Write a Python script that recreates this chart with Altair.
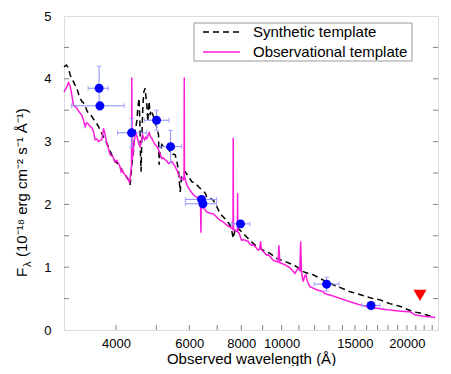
import altair as alt
import pandas as pd

# ---------------- data ----------------
syn_wl = [3000, 3040, 3076, 3103, 3130, 3162, 3190, 3221, 3250, 3281, 3311, 3340, 3372, 3400, 3436,
          3470, 3499, 3530, 3563, 3600, 3631, 3665, 3698, 3730, 3767, 3800, 3838, 3870, 3909, 3945,
          3981, 4020, 4057, 4095, 4130, 4170, 4207, 4250, 4287, 4325, 4345, 4365, 4385, 4406, 4425,
          4446, 4468, 4488, 4513, 4530, 4545, 4565, 4580, 4596, 4612, 4632, 4650, 4666, 4699, 4720,
          4744, 4770, 4787, 4804, 4831, 4850, 4876, 4920, 4967, 5015, 5061, 5070, 5078, 5100, 5155,
          5200, 5250, 5300, 5350, 5400, 5449, 5500, 5550, 5603, 5656, 5680, 5706, 5730, 5760, 5810,
          5867, 5920, 5977, 6030, 6088, 6140, 6200, 6260, 6316, 6434, 6553, 6605, 6720, 6850, 6980,
          7107, 7240, 7377, 7512, 7580, 7650, 7720, 7794, 7940, 8086, 8240, 8390, 8550, 8708, 8870,
          9032, 9200, 9373, 9550, 9727, 9900, 10088, 10280, 10471, 10670, 10867, 11060, 11270, 11586,
          11912, 12361, 12828, 13305, 13900, 14592, 15144, 16007, 16600, 17233, 18200, 19400, 20000,
          20717, 21500, 22316, 23361]
syn_flux = [4.19, 4.22, 4.17, 4.06, 4.02, 3.95, 3.90, 3.85, 3.76, 3.69, 3.64, 3.62, 3.58, 3.50, 3.45,
            3.43, 3.40, 3.36, 3.32, 3.28, 3.24, 3.18, 3.13, 3.08, 3.03, 2.97, 2.92, 2.85, 2.79, 2.73,
            2.68, 2.66, 2.63, 2.59, 2.55, 2.51, 2.47, 2.43, 2.39, 2.31, 2.45, 2.63, 2.75, 2.84, 3.00,
            3.16, 3.25, 3.32, 3.53, 3.62, 3.69, 3.30, 2.80, 2.52, 3.00, 3.42, 3.65, 3.79, 3.85, 3.72,
            3.58, 3.32, 3.50, 3.64, 3.42, 3.50, 3.47, 3.40, 3.32, 3.22, 3.11, 2.85, 2.63, 2.80, 2.95,
            2.92, 2.89, 2.90, 2.89, 2.83, 2.79, 2.80, 2.79, 2.68, 2.52, 2.35, 2.20, 2.35, 2.47, 2.50,
            2.52, 2.48, 2.44, 2.40, 2.36, 2.35, 2.34, 2.31, 2.28, 2.23, 2.18, 2.12, 2.10, 2.07, 1.97,
            1.86, 1.80, 1.75, 1.67, 1.60, 1.46, 1.58, 1.64, 1.59, 1.54, 1.48, 1.43, 1.38, 1.33, 1.30,
            1.27, 1.25, 1.22, 1.18, 1.14, 1.12, 1.11, 1.08, 1.06, 1.03, 1.01, 0.97, 0.93, 0.90,
            0.88, 0.82, 0.77, 0.72, 0.67, 0.61, 0.58, 0.53, 0.50, 0.48, 0.42, 0.37, 0.33,
            0.29, 0.27, 0.24, 0.20]

obs_wl = [3000, 3040, 3076, 3105, 3133, 3162, 3190, 3221, 3281, 3311, 3342, 3372, 3400, 3423, 3466,
          3500, 3532, 3563, 3600, 3631, 3660, 3698, 3733, 3767, 3802, 3840, 3873, 3930, 3981, 4020,
          4057, 4090, 4116, 4140, 4170, 4210, 4246, 4280, 4311, 4341, 4357, 4365, 4373, 4400, 4430,
          4463, 4490, 4513, 4545, 4571, 4600, 4632, 4660, 4684, 4715, 4744, 4775, 4804, 4840, 4876,
          4920, 4967, 5010, 5061, 5110, 5155, 5200, 5250, 5300, 5350, 5400, 5449, 5500, 5550, 5600,
          5656, 5706, 5760, 5810, 5828, 5835, 5842, 5888, 5930, 5977, 6060, 6146, 6230, 6316, 6363,
          6385, 6398, 6411, 6434, 6480, 6540, 6605, 6725, 6850, 6979, 7107, 7238, 7377, 7512, 7583,
          7640, 7650, 7660, 7722, 7800, 7828, 7838, 7848, 7909, 7960, 8014, 8090, 8161, 8240, 8312,
          8390, 8470, 8550, 8626, 8708, 8786, 8860, 8903, 8945, 9032, 9120, 9203, 9290, 9373, 9460,
          9546, 9640, 9727, 9800, 9852, 9900, 10000, 10090, 10184, 10280, 10372, 10470, 10568, 10670,
          10765, 10870, 10962, 11060, 11110, 11160, 11270, 11360, 11439, 11483, 11586, 11695, 12137,
          12589, 12708, 13305, 14592, 15422, 16366, 17549, 19247, 20342, 20911, 21900, 23361]
obs_flux = [3.79, 3.86, 3.94, 3.88, 3.74, 3.58, 3.56, 3.53, 3.45, 3.42, 3.34, 3.24, 3.30, 3.29, 3.24,
            3.22, 3.16, 3.03, 3.04, 3.00, 3.02, 3.03, 3.21, 3.11, 2.97, 2.88, 2.79, 2.76, 2.68, 2.70,
            2.65, 2.60, 2.52, 2.55, 2.50, 2.47, 2.42, 2.40, 2.34, 2.52, 2.60, 4.02, 2.70, 2.85, 3.03,
            3.16, 3.08, 3.03, 2.95, 2.92, 3.00, 3.11, 3.06, 3.03, 3.07, 3.05, 3.10, 3.14, 3.08, 3.05,
            3.00, 2.95, 2.93, 2.87, 2.80, 2.73, 2.74, 2.71, 2.69, 2.65, 2.67, 2.68, 2.64, 2.60, 2.55,
            2.47, 2.42, 2.40, 2.39, 2.45, 4.02, 2.45, 2.36, 2.30, 2.26, 2.20, 2.15, 2.12, 2.10, 2.07,
            2.00, 1.55, 2.00, 2.04, 1.94, 1.92, 1.88, 1.86, 1.85, 1.80, 1.75, 1.72, 1.67, 1.64, 1.62,
            1.60, 3.06, 1.60, 1.59, 1.57, 1.58, 2.18, 1.56, 1.54, 1.48, 1.43, 1.44, 1.43, 1.42, 1.41,
            1.37, 1.35, 1.36, 1.33, 1.30, 1.27, 1.29, 1.41, 1.28, 1.25, 1.22, 1.19, 1.20, 1.17, 1.14,
            1.11, 1.10, 1.09, 1.08, 1.35, 1.07, 1.06, 1.05, 1.04, 1.02, 1.01, 0.99, 0.96, 0.93,
            0.90, 0.95, 0.98, 0.95, 1.41, 0.92, 0.77, 0.86, 0.88, 0.82, 0.74, 0.69, 0.64,
            0.61, 0.58, 0.54, 0.45, 0.40, 0.36, 0.33, 0.30, 0.29, 0.24, 0.22, 0.20]

phot_wl = [3643, 3659, 4359, 5006, 5410, 6420, 6470, 7966, 12826, 16396]
phot_flux = [3.85, 3.57, 3.14, 3.34, 2.92, 2.08, 2.01, 1.69, 0.73, 0.39]
phot_wl_lo = [3428, 3127, 4035, 4676, 5099, 5870, 5870, 7584, 11976, 15580]
phot_wl_hi = [3831, 4188, 4737, 5365, 5751, 6980, 6980, 8390, 13738, 17230]
phot_flux_err = [0.35, 0.04, 0.23, 0.16, 0.26, 0.04, 0.04, 0.04, 0.11, 0.04]

limit_wl = [21500]
limit_flux = [0.55]

x_labels = [4000, 6000, 8000, 10000, 15000, 20000]
x_minor = list(range(4000, 24000, 1000))
y_labels = [0, 1, 2, 3, 4, 5]
y_minor = [0.5, 1, 1.5, 2, 2.5, 3, 3.5, 4, 4.5]

SYN = "Synthetic template"
OBS = "Observational template"
MAGENTA = "#ff1ddb"
ERRCOL = "#8c8cff"
GRAY = "#808080"
FONT = "Liberation Sans"

# ---------------- tables ----------------
lines = pd.concat([
    pd.DataFrame({"wl": syn_wl, "flux": syn_flux, "template": SYN}),
    pd.DataFrame({"wl": obs_wl, "flux": obs_flux, "template": OBS}),
], ignore_index=True)

phot = pd.DataFrame({
    "wl": phot_wl, "flux": phot_flux,
    "wl_lo": phot_wl_lo, "wl_hi": phot_wl_hi,
    "f_lo": [f - e for f, e in zip(phot_flux, phot_flux_err)],
    "f_hi": [f + e for f, e in zip(phot_flux, phot_flux_err)],
})
limit = pd.DataFrame({"wl": limit_wl, "flux": limit_flux})
xt = pd.DataFrame({"v": x_minor})
yt = pd.DataFrame({"v": y_minor})

W, H = 374, 314
xscale = alt.Scale(type="log", domain=[3000, 23750], nice=False)
yscale = alt.Scale(domain=[0, 5], nice=False, zero=False)

xaxis = alt.Axis(values=x_labels, format="d", ticks=False, tickSize=0, domain=False, grid=False,
                 labelFontSize=13, labelFont=FONT, labelColor="black", labelPadding=7,
                 labelFlush=False, labelOverlap=False,
                 title="Observed wavelength (Å)", titleFontSize=15, titleFont=FONT,
                 titleFontWeight="normal", titleColor="black", titleBaseline="alphabetic",
                 titleY=33)
yaxis = alt.Axis(values=y_labels, ticks=False, tickSize=0, domain=False, grid=False,
                 labelFontSize=13, labelFont=FONT, labelColor="black", labelPadding=13,
                 labelFlush=False, title=None)

X = lambda f: alt.X(f, scale=xscale, axis=xaxis)
Y = lambda f: alt.Y(f, scale=yscale, axis=yaxis)

line_layer = alt.Chart(lines).mark_line(strokeWidth=1.5).encode(
    x=X("wl:Q"), y=Y("flux:Q"),
    color=alt.Color("template:N", scale=alt.Scale(domain=[SYN, OBS], range=["black", MAGENTA]),
                    legend=None),
    strokeDash=alt.StrokeDash("template:N",
                              scale=alt.Scale(domain=[SYN, OBS], range=[[6, 4], [1, 0]]),
                              legend=None),
)

errx = alt.Chart(phot).mark_errorbar(color=ERRCOL, thickness=1, ticks={"size": 5}).encode(
    x=X("wl_lo:Q"), x2="wl_hi:Q", y=Y("flux:Q"))
erry = alt.Chart(phot).mark_errorbar(color=ERRCOL, thickness=1, ticks={"size": 5}).encode(
    x=X("wl:Q"), y=Y("f_lo:Q"), y2="f_hi:Q")

pts = alt.Chart(phot).mark_point(filled=True, shape="circle", size=80, color="#0000ff",
                                 opacity=1).encode(x=X("wl:Q"), y=Y("flux:Q"))
lim = alt.Chart(limit).mark_point(filled=True, shape="triangle-down", size=170, color="#ff0000",
                                  opacity=1).encode(x=X("wl:Q"), y=Y("flux:Q"))

xticks = alt.Chart(xt).mark_rule(color=GRAY, strokeWidth=1).encode(
    x=X("v:Q"), y=alt.value(H), y2=alt.value(H - 5))
yticks_l = alt.Chart(yt).mark_rule(color=GRAY, strokeWidth=1).encode(
    y=Y("v:Q"), x=alt.value(0), x2=alt.value(5))
yticks_r = alt.Chart(yt).mark_rule(color=GRAY, strokeWidth=1).encode(
    y=Y("v:Q"), x=alt.value(W), x2=alt.value(W - 5))

# y-axis title built from pieces (subscript lambda)
t1 = alt.Chart(pd.DataFrame({"t": ["F"]})).mark_text(
    angle=270, align="left", baseline="alphabetic", fontSize=15, font=FONT, color="black"
).encode(text="t:N", x=alt.value(-37), y=alt.value(261))
t2 = alt.Chart(pd.DataFrame({"t": ["λ"]})).mark_text(
    angle=270, align="left", baseline="alphabetic", fontSize=11, font=FONT, color="black"
).encode(text="t:N", x=alt.value(-33), y=alt.value(251))
t3 = alt.Chart(pd.DataFrame({"t": ["(10⁻¹⁸ erg cm⁻² s⁻¹ Å⁻¹)"]})).mark_text(
    angle=270, align="left", baseline="alphabetic", fontSize=15, font=FONT, color="black"
).encode(text="t:N", x=alt.value(-37), y=alt.value(241))

# legend box (drawn as marks)
leg_box = alt.Chart(pd.DataFrame({"k": [0]})).mark_rect(
    fill="white", stroke="#999999", strokeWidth=1
).encode(x=alt.value(130), x2=alt.value(348), y=alt.value(7), y2=alt.value(45))
leg_syn = alt.Chart(pd.DataFrame({"k": [0]})).mark_rule(
    color="black", strokeWidth=1.5, strokeDash=[6, 4]
).encode(x=alt.value(139), x2=alt.value(176), y=alt.value(16))
leg_obs = alt.Chart(pd.DataFrame({"k": [0]})).mark_rule(
    color=MAGENTA, strokeWidth=1.5
).encode(x=alt.value(139), x2=alt.value(176), y=alt.value(36))
leg_t1 = alt.Chart(pd.DataFrame({"t": [SYN]})).mark_text(
    align="left", baseline="middle", fontSize=15, font=FONT, color="black"
).encode(text="t:N", x=alt.value(189), y=alt.value(16))
leg_t2 = alt.Chart(pd.DataFrame({"t": [OBS]})).mark_text(
    align="left", baseline="middle", fontSize=15, font=FONT, color="black"
).encode(text="t:N", x=alt.value(189), y=alt.value(36))

chart = alt.layer(
    line_layer, errx, erry, pts, lim, xticks, yticks_l, yticks_r, t1, t2, t3,
    leg_box, leg_syn, leg_obs, leg_t1, leg_t2
).properties(
    width=W, height=H,
    autosize=alt.AutoSizeParams(type="none"),
    padding={"left": 56, "top": 8, "right": 5, "bottom": 36},
).configure_view(stroke=GRAY, strokeWidth=1).configure(font=FONT)

chart.save("out.html", embed_options={"renderer": "svg", "actions": False})
